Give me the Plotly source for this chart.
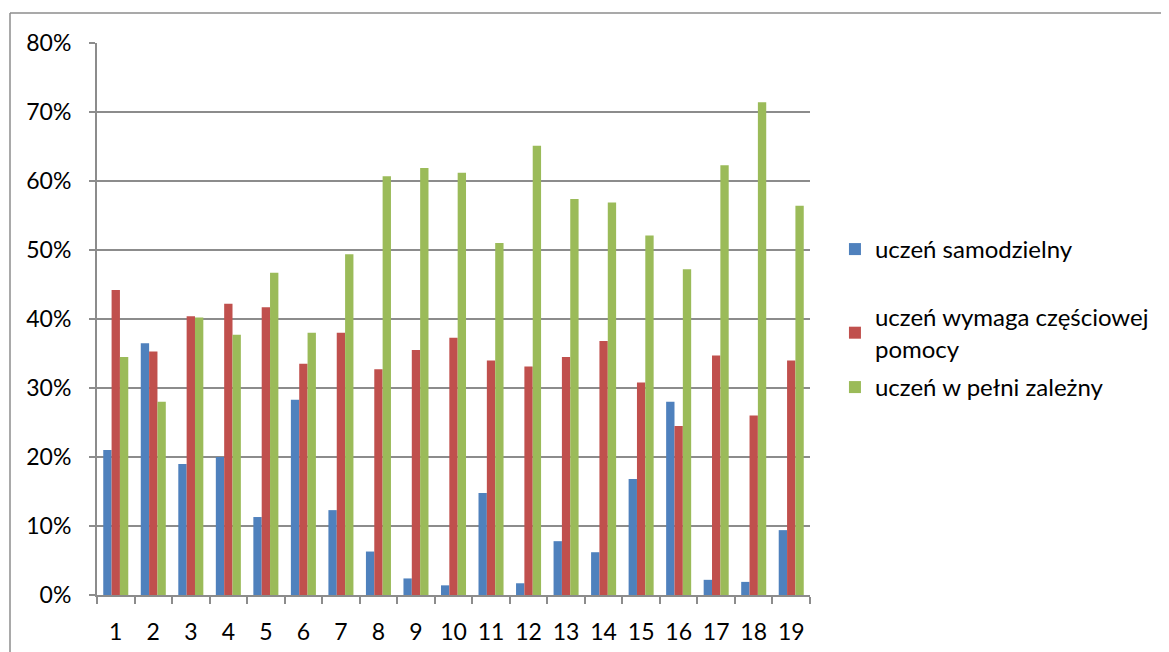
import plotly.graph_objects as go

categories = [str(i) for i in range(1, 20)]
samodzielny = [21.0, 36.5, 19.0, 20.0, 11.3, 28.3, 12.3, 6.3, 2.4, 1.4, 14.8, 1.7, 7.8, 6.2, 16.8, 28.0, 2.2, 1.9, 9.4]
czesciowa = [44.2, 35.3, 40.4, 42.2, 41.7, 33.5, 38.0, 32.7, 35.5, 37.3, 34.0, 33.1, 34.5, 36.8, 30.8, 24.5, 34.7, 26.0, 34.0]
zalezny = [34.5, 28.0, 40.2, 37.7, 46.7, 38.0, 49.4, 60.7, 61.9, 61.2, 51.0, 65.1, 57.4, 56.9, 52.1, 47.2, 62.3, 71.4, 56.4]

series_names = ["uczeń samodzielny", "uczeń wymaga częściowej<br>pomocy", "uczeń w pełni zależny"]
series_values = [samodzielny, czesciowa, zalezny]
colors = ["#4F81BD", "#C0504D", "#9BBB59"]
legend_ids = ["legend", "legend2", "legend3"]
legend_tops = [0.6667, 0.5435, 0.4167]

FONT = "Lato"
GRAY = "#8C8C8C"

fig = go.Figure()
for name, vals, col, lid in zip(series_names, series_values, colors, legend_ids):
    fig.add_trace(go.Bar(
        x=categories, y=[v / 100 for v in vals], name=name,
        marker=dict(color=col, line=dict(width=0)),
        legend=lid,
    ))

legend_common = dict(
    x=1.035, xanchor="left", yanchor="top",
    font=dict(family=FONT, size=24, color="#000000"),
    itemwidth=30, bgcolor="rgba(0,0,0,0)",
)

# page body has an 8px offset; margins chosen so the plot area spans x 97-810, y 43-595
fig.update_layout(
    width=1169, height=652,
    margin=dict(l=89, r=367, t=35, b=65),
    paper_bgcolor="white", plot_bgcolor="white",
    barmode="group", bargap=0.333, bargroupgap=0,
    font=dict(family=FONT, size=23, color="#000000"),
    legend=dict(y=legend_tops[0], **legend_common),
    legend2=dict(y=legend_tops[1], **legend_common),
    legend3=dict(y=legend_tops[2], **legend_common),
    showlegend=True,
)
fig.update_xaxes(
    type="category", tickson="boundaries", ticks="outside", ticklen=7,
    tickcolor=GRAY, tickwidth=2, showline=True, linecolor=GRAY, linewidth=2,
    showgrid=False, ticklabelstandoff=15,
    tickfont=dict(family=FONT, size=23, color="#000000"),
)
fig.update_yaxes(
    range=[0, 0.8], dtick=0.1, tickformat=".0%", ticks="outside", ticklen=6,
    tickcolor=GRAY, tickwidth=2, showline=True, linecolor=GRAY, linewidth=2,
    showgrid=True, gridcolor=GRAY, gridwidth=2, zeroline=False,
    ticklabelstandoff=13,
    tickfont=dict(family=FONT, size=23, color="#000000"),
)

# outer chart-area frame (left and top edges visible)
fig.add_shape(type="line", xref="paper", yref="paper",
              x0=(10 - 97) / 713, x1=(10 - 97) / 713, y0=1.0543, y1=-0.2,
              line=dict(color=GRAY, width=1.5))
fig.add_shape(type="line", xref="paper", yref="paper",
              x0=(10 - 97) / 713, x1=1.6, y0=1.0543, y1=1.0543,
              line=dict(color=GRAY, width=1.5))

fig.write_html("out.html")
